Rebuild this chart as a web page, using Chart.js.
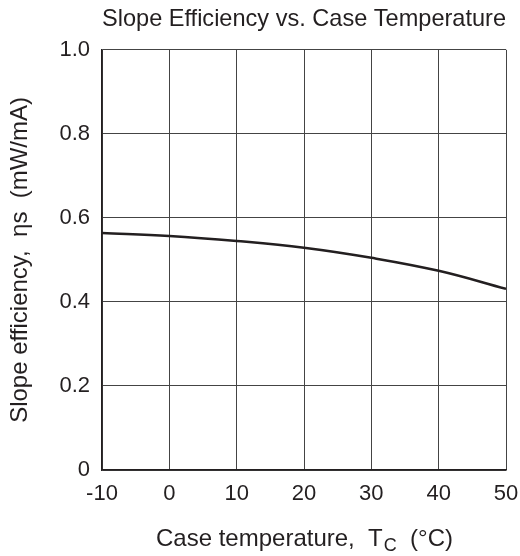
<!DOCTYPE html>
<html>
<head>
<meta charset="utf-8">
<script src="https://cdn.jsdelivr.net/npm/chart.js@4/dist/chart.umd.min.js"></script>
<style>
  body { margin: 0; background: #fff; }
  #wrap { width: 520px; height: 556px; }
</style>
</head>
<body>
<div id="wrap"><canvas id="myChart" width="520" height="556"></canvas></div>
<script>
// temperature (°C) and slope efficiency (mW/mA)
const caseTemp = [-10, 0, 10, 20, 30, 40, 50];
const slopeEff = [0.564, 0.557, 0.545, 0.529, 0.505, 0.474, 0.431];

const xTicks = [-10, 0, 10, 20, 30, 40, 50];
const yTicks = [0, 0.2, 0.4, 0.6, 0.8, 1.0];

const ink = '#231f20';
const fontFam = '"Liberation Sans", Arial, sans-serif';

// x title needs a subscript, so draw it by hand
const xTitlePlugin = {
  id: 'xTitle',
  afterDraw(chart) {
    const ctx = chart.ctx;
    const area = chart.chartArea;
    const a = 'Case temperature,  T';
    const sub = 'C';
    const b = '  (°C)';
    ctx.save();
    ctx.fillStyle = ink;
    ctx.textBaseline = 'alphabetic';
    ctx.font = '24px ' + fontFam;
    const wa = ctx.measureText(a).width;
    const wb = ctx.measureText(b).width;
    ctx.font = '18px ' + fontFam;
    const ws = ctx.measureText(sub).width;
    let x = (area.left + area.right) / 2 - (wa + ws + wb) / 2;
    const base = 546;
    ctx.font = '24px ' + fontFam;
    ctx.fillText(a, x, base);
    x += wa;
    ctx.font = '18px ' + fontFam;
    ctx.fillText(sub, x + 1, base + 5);
    x += ws + 1;
    ctx.font = '24px ' + fontFam;
    ctx.fillText(b, x, base);
    ctx.restore();
  }
};

new Chart(document.getElementById('myChart'), {
  type: 'line',
  data: {
    datasets: [{
      data: caseTemp.map((t, i) => ({ x: t, y: slopeEff[i] })),
      borderColor: ink,
      borderWidth: 2.5,
      pointRadius: 0,
      tension: 0.4,
      fill: false
    }]
  },
  options: {
    responsive: false,
    animation: false,
    layout: { padding: 0 },
    plugins: {
      legend: { display: false },
      tooltip: { enabled: false },
      title: {
        display: true,
        fullSize: false,
        text: 'Slope Efficiency vs. Case Temperature',
        color: ink,
        font: { family: fontFam, size: 24, weight: 'normal' },
        padding: { top: 5, bottom: 16 }
      }
    },
    scales: {
      x: {
        type: 'linear',
        min: -10,
        max: 50,
        afterBuildTicks: (s) => { s.ticks = xTicks.map(v => ({ value: v })); },
        afterFit: (s) => { s.height = 86; s.paddingRight = 14; s.paddingLeft = 0; },
        grid: { color: '#444', lineWidth: 1, drawTicks: false },
        border: { color: ink, width: 1.5 },
        ticks: {
          color: ink,
          padding: 11,
          maxRotation: 0,
          font: { family: fontFam, size: 22 }
        }
      },
      y: {
        min: 0,
        max: 1,
        afterBuildTicks: (s) => { s.ticks = yTicks.map(v => ({ value: v })); },
        afterFit: (s) => { s.width = 102; },
        grid: { color: '#444', lineWidth: 1, drawTicks: false },
        border: { color: ink, width: 1.5 },
        ticks: {
          color: ink,
          padding: 12,
          font: { family: fontFam, size: 22 },
          callback: (v) => v === 0 ? '0' : v.toFixed(1)
        },
        title: {
          display: true,
          text: 'Slope efficiency,  ηs  (mW/mA)',
          color: ink,
          font: { family: fontFam, size: 24 },
          padding: { top: 6, bottom: 0 }
        }
      }
    }
  },
  plugins: [xTitlePlugin]
});
</script>
</body>
</html>
